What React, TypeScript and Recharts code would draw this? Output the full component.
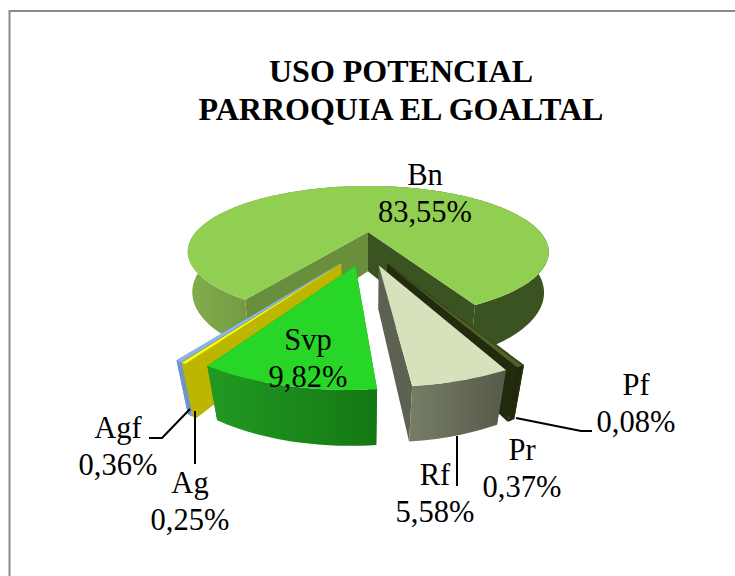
import React from "react";
import { PieChart, Pie } from "recharts";

const names = ["Bn", "Pf", "Pr", "Rf", "Svp", "Ag", "Agf"];
const shares = [83.55, 0.08, 0.37, 5.58, 9.82, 0.25, 0.36];
const titleLines = ["USO POTENCIAL", "PARROQUIA EL GOALTAL"];

const data = names.map((name, i) => ({ name, value: shares[i] }));
const reversed = [...data].reverse();

type Skin = { top: string; side: string; wall: string[]; scale: number };
const skins: Record<string, Skin> = {
  Bn: { top: "#90CF52", side: "#5f8436", wall: ["#83AE4D", "#6F9640", "#3B5320", "#3B5320"], scale: 1.025 },
  Pf: { top: "#4F6228", side: "#262E10", wall: ["#262E10", "#262E10"], scale: 1 },
  Pr: { top: "#4F6228", side: "#232B0E", wall: ["#232B0E", "#1F270C"], scale: 1 },
  Rf: { top: "#D7E2BC", side: "#5D6152", wall: ["#767E67", "#565A4A"], scale: 1 },
  Svp: { top: "#27D627", side: "#1A8A1A", wall: ["#229A22", "#147814"], scale: 1.015 },
  Ag: { top: "#FFFF00", side: "#BDB600", wall: ["#BDB600", "#BDB600"], scale: 1.035 },
  Agf: { top: "#8FB4E3", side: "#6F94C8", wall: ["#6F94C8", "#6F94C8"], scale: 1.035 },
};

const FOCAL = 172;
const PERSPECTIVE = 0.3;
const TILT = 59.8 / 172;
const DEPTH_W = 0.02;
const DEPTH_W_SLOPE = 0.0145;
const DEPTH_Y = 40;
const EXPLODE = 42;
const RAD = Math.PI / 180;

const frontGroup = ["Agf", "Ag", "Svp"];

function SliceShape(props: any) {
  const { cx, cy, outerRadius, startAngle, endAngle, name } = props;
  const label = name ?? props.payload?.name;
  const skin = skins[label];
  const radius = outerRadius * skin.scale;
  const mid = ((startAngle + endAngle) / 2) * RAD;
  const ox = EXPLODE * Math.cos(mid);
  const oy = EXPLODE - EXPLODE * Math.sin(mid);
  const project = (a: number, r: number, z: number) => {
    const u = ox + r * Math.cos(a * RAD);
    const v = oy - r * Math.sin(a * RAD);
    const d = Math.max(0, DEPTH_W + (DEPTH_W_SLOPE * v) / FOCAL);
    const w = 1 - (PERSPECTIVE * v) / FOCAL + d * z;
    return [cx + u / w, cy + (TILT * v + DEPTH_Y * z) / w];
  };
  const lo = Math.min(startAngle, endAngle);
  const hi = Math.max(startAngle, endAngle);
  const steps = Math.max(2, Math.ceil((hi - lo) / 1.5));
  const arc = (z: number) => {
    const pts: number[][] = [];
    for (let i = 0; i <= steps; i++) pts.push(project(lo + ((hi - lo) * i) / steps, radius, z));
    return pts;
  };
  const toPath = (pts: number[][]) =>
    "M" + pts.map((p) => `${p[0].toFixed(2)},${p[1].toFixed(2)}`).join("L") + "Z";
  const radial = (a: number) =>
    toPath([project(a, 0, 0), project(a, radius, 0), project(a, radius, 1), project(a, 0, 1)]);
  const topArc = arc(0);
  const botArc = arc(1);
  const gid = `wall-${label}`;
  const xs = [...topArc, ...botArc].map((p) => p[0]);
  return (
    <g>
      <defs>
        <linearGradient id={gid} gradientUnits="userSpaceOnUse" x1={Math.min(...xs)} x2={Math.max(...xs)} y1={0} y2={0}>
          {skin.wall.map((c, i) => {
            const stops = skin.wall.length === 4 ? [0, 0.2, 0.7, 1] : [0, 1];
            return <stop key={i} offset={stops[i]} stopColor={c} />;
          })}
        </linearGradient>
      </defs>
      <path d={radial(lo)} fill={label === "Bn" ? "#3B5320" : skin.side} />
      <path d={radial(hi)} fill={label === "Bn" ? "#6A8F3C" : skin.side} />
      <path d={toPath([...topArc, ...[...botArc].reverse()])} fill={`url(#${gid})`} />
      <path d={toPath([project(0, 0, 0), ...topArc])} fill={skin.top} />
    </g>
  );
}

const backShape = (props: any) => {
  const label = props.name ?? props.payload?.name;
  return frontGroup.includes(label) ? <g /> : <SliceShape {...props} />;
};
const frontShape = (props: any) => {
  const label = props.name ?? props.payload?.name;
  return frontGroup.includes(label) ? <SliceShape {...props} /> : <g />;
};

const labelPlace: Record<string, { x: number; y: number; leader?: number[][] }> = {
  Bn: { x: 425, y: 185 },
  Svp: { x: 308, y: 350 },
  Rf: { x: 435, y: 485, leader: [[457, 436], [457, 486]] },
  Pr: { x: 522, y: 460 },
  Pf: { x: 636, y: 395, leader: [[516, 418], [581, 431], [592, 431]] },
  Agf: { x: 118, y: 438, leader: [[190, 409], [162, 438], [149, 438]] },
  Ag: { x: 190, y: 493, leader: [[195, 411], [195, 464]] },
};

const SliceLabel = (props: any) => {
  const item = reversed[props.index];
  const place = labelPlace[item.name];
  const pct = item.value.toFixed(2).replace(".", ",") + "%";
  return (
    <g>
      {place.leader && (
        <polyline
          points={place.leader.map((p) => p.join(",")).join(" ")}
          fill="none"
          stroke="#000"
          strokeWidth={2}
        />
      )}
      <text x={place.x} y={place.y} textAnchor="middle" fontFamily="Liberation Serif" fontSize={30.5} fill="#000">
        {item.name}
      </text>
      <text x={place.x} y={place.y + 37} textAnchor="middle" fontFamily="Liberation Serif" fontSize={30.5} fill="#000">
        {pct}
      </text>
    </g>
  );
};

export default function App() {
  return (
    <div style={{ position: "fixed", left: 0, top: 0, width: 735, height: 576, background: "#fff" }}>
      <PieChart width={735} height={576} margin={{ top: 0, right: 0, bottom: 0, left: 0 }}>
        <path d="M9.5,576V11H735" fill="none" stroke="#8A8A8A" strokeWidth={2} />
        <text x={401} y={82} textAnchor="middle" fontFamily="Liberation Serif" fontWeight="bold" fontSize={32} fill="#000">
          {titleLines[0]}
        </text>
        <text x={401} y={120} textAnchor="middle" fontFamily="Liberation Serif" fontWeight="bold" fontSize={32} fill="#000">
          {titleLines[1]}
        </text>
        <Pie
          data={data}
          dataKey="value"
          nameKey="name"
          cx={366}
          cy={232}
          outerRadius={168}
          startAngle={237.6}
          endAngle={-122.4}
          stroke="none"
          isAnimationActive={false}
          shape={backShape}
          inactiveShape={backShape}
          label={false}
          labelLine={false}
        />
        <Pie
          data={reversed}
          dataKey="value"
          nameKey="name"
          cx={366}
          cy={232}
          outerRadius={168}
          startAngle={-122.4}
          endAngle={237.6}
          stroke="none"
          isAnimationActive={false}
          shape={frontShape}
          inactiveShape={frontShape}
          label={SliceLabel}
          labelLine={false}
        />
      </PieChart>
    </div>
  );
}
